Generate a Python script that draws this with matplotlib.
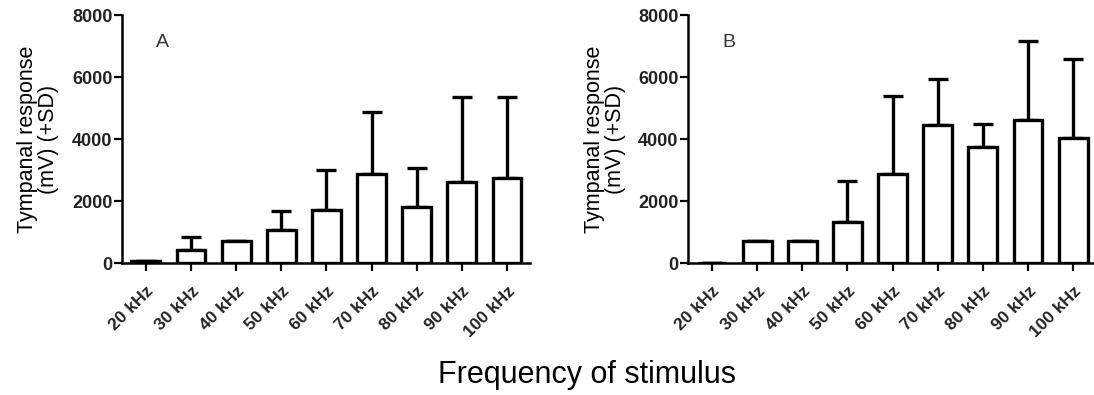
import matplotlib
matplotlib.use('Agg')
import matplotlib.pyplot as plt
import numpy as np

plt.rcParams['font.family'] = ['Liberation Sans', 'DejaVu Sans']

freqs = ['20 kHz', '30 kHz', '40 kHz', '50 kHz', '60 kHz',
         '70 kHz', '80 kHz', '90 kHz', '100 kHz']

# mean tympanal response (mV) and SD, panel A
mean_a = [80, 430, 700, 1075, 1720, 2870, 1800, 2625, 2740]
sd_a = [0, 400, 0, 590, 1270, 1990, 1275, 2720, 2605]

# panel B
mean_b = [0, 700, 700, 1330, 2870, 4440, 3740, 4600, 4030]
sd_b = [0, 0, 0, 1320, 2530, 1510, 760, 2550, 2560]

fig = plt.figure(figsize=(10.94, 3.95), dpi=100)
ax_a = fig.add_axes([0.1115, 0.334, 0.373, 0.628])
ax_b = fig.add_axes([0.629, 0.334, 0.373, 0.628])


def draw_panel(ax, means, sds, letter):
    x = np.arange(len(freqs))
    ax.bar(x, means, width=0.64, color='white', edgecolor='black',
           linewidth=2.4, zorder=2)
    ax.errorbar(x, means, yerr=[np.zeros(len(sds)), sds], fmt='none',
                ecolor='black', elinewidth=2.4, capsize=7.5, capthick=2.4,
                zorder=1)
    ax.set_xlim(-0.53, 8.51)
    ax.set_ylim(0, 8000)
    ax.set_yticks([0, 2000, 4000, 6000, 8000])
    ax.set_xticks(x)
    ax.set_xticklabels(freqs, rotation=45, ha='right', rotation_mode='anchor',
                       fontsize=12.5, fontweight='bold', color='#222222')
    for lab in ax.get_yticklabels():
        lab.set_fontsize(13)
        lab.set_fontweight('bold')
        lab.set_color('#222222')
    ax.tick_params(axis='both', direction='out', length=6, width=1.6, pad=1)
    ax.tick_params(axis='x', pad=9)
    for side in ['top', 'right']:
        ax.spines[side].set_visible(False)
    for side in ['left', 'bottom']:
        ax.spines[side].set_linewidth(1.8)
    ax.set_ylabel('Tympanal response\n(mV) (+SD)', fontsize=15.5,
                  linespacing=1.0, labelpad=9)
    ax.text(0.1, 0.89, letter, transform=ax.transAxes, fontsize=14,
            color='#333333', ha='center', va='center')


draw_panel(ax_a, mean_a, sd_a, 'A')
draw_panel(ax_b, mean_b, sd_b, 'B')

fig.text(0.537, 0.03, 'Frequency of stimulus', ha='center', va='baseline',
         fontsize=22)

fig.savefig('out.png', dpi=100, facecolor='white')
plt.close()
